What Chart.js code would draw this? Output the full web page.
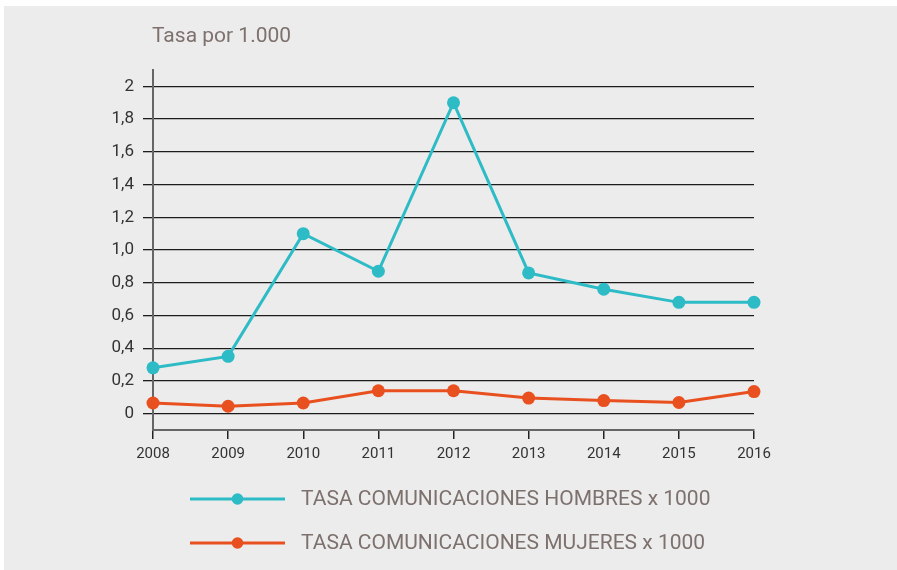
<!DOCTYPE html>
<html>
<head>
<meta charset="utf-8">
<script src="https://cdn.jsdelivr.net/npm/chart.js@4"></script>
<style>
  html, body { margin: 0; padding: 0; background: #ffffff; }
  #wrap { width: 897px; height: 570px; position: relative; }
  canvas { display: block; }
</style>
</head>
<body>
<div id="wrap"><canvas id="c" width="897" height="570"></canvas></div>
<script>
const titleText = 'Tasa por 1.000';
const categories = ['2008', '2009', '2010', '2011', '2012', '2013', '2014', '2015', '2016'];
const hombres = [0.28, 0.35, 1.10, 0.87, 1.90, 0.86, 0.76, 0.68, 0.68];
const mujeres = [0.065, 0.045, 0.065, 0.14, 0.14, 0.095, 0.08, 0.068, 0.135];
const seriesNames = ['TASA COMUNICACIONES HOMBRES x 1000', 'TASA COMUNICACIONES MUJERES x 1000'];
const seriesColors = ['#2dbbc6', '#e9501f'];
const yTickValues = [0, 0.2, 0.4, 0.6, 0.8, 1.0, 1.2, 1.4, 1.6, 1.8, 2.0];
const yTickLabels = ['0', '0,2', '0,4', '0,6', '0,8', '1,0', '1,2', '1,4', '1,6', '1,8', '2'];

const FONT = 'Roboto, "DejaVu Sans", sans-serif';

const bgPlugin = {
  id: 'bg',
  beforeDraw(chart) {
    const ctx = chart.ctx;
    ctx.save();
    ctx.fillStyle = '#ffffff';
    ctx.fillRect(0, 0, chart.width, chart.height);
    ctx.fillStyle = '#ececec';
    ctx.fillRect(4, 6, chart.width - 4, chart.height - 6);
    ctx.restore();
  }
};

const decoPlugin = {
  id: 'deco',
  afterDraw(chart) {
    const ctx = chart.ctx;
    const area = chart.chartArea;
    ctx.save();
    // title
    ctx.font = '21px ' + FONT;
    ctx.fillStyle = '#7d716e';
    ctx.textBaseline = 'middle';
    ctx.textAlign = 'left';
    ctx.fillText(titleText, area.left - 1, 37);
    // legend
    const rows = [499, 543];
    chart.data.datasets.forEach((ds, i) => {
      const y = rows[i];
      ctx.strokeStyle = ds.borderColor;
      ctx.lineWidth = 3;
      ctx.beginPath();
      ctx.moveTo(190, y);
      ctx.lineTo(285, y);
      ctx.stroke();
      ctx.fillStyle = ds.borderColor;
      ctx.beginPath();
      ctx.arc(237.5, y, 5.8, 0, Math.PI * 2);
      ctx.fill();
      ctx.font = '21px ' + FONT;
      ctx.fillStyle = '#7d716e';
      ctx.fillText(ds.label, 301, y + 1);
    });
    ctx.restore();
  }
};

new Chart(document.getElementById('c'), {
  type: 'line',
  data: {
    labels: categories,
    datasets: [
      {
        label: seriesNames[0],
        data: hombres,
        borderColor: seriesColors[0],
        backgroundColor: seriesColors[0],
        borderWidth: 3,
        pointRadius: 6.5,
        pointHoverRadius: 6.5,
        pointBorderWidth: 0,
        tension: 0,
        clip: false
      },
      {
        label: seriesNames[1],
        data: mujeres,
        borderColor: seriesColors[1],
        backgroundColor: seriesColors[1],
        borderWidth: 3,
        pointRadius: 6.5,
        pointHoverRadius: 6.5,
        pointBorderWidth: 0,
        tension: 0,
        clip: false
      }
    ]
  },
  options: {
    responsive: false,
    animation: false,
    devicePixelRatio: 1,
    layout: { padding: { left: 0, right: 143, top: 70, bottom: 90 } },
    plugins: {
      legend: { display: false },
      title: { display: false },
      tooltip: { enabled: false }
    },
    scales: {
      x: {
        offset: false,
        afterFit(scale) { scale.height = 50; },
        grid: {
          drawOnChartArea: false,
          drawTicks: true,
          tickLength: 9,
          color: '#222222',
          lineWidth: 1.5
        },
        border: { display: true, color: '#666666', width: 2 },
        ticks: {
          color: '#333333',
          font: { family: FONT, size: 15 },
          padding: 6,
          maxRotation: 0,
          autoSkip: false
        }
      },
      y: {
        min: -0.1,
        max: 2.1,
        afterFit(scale) { scale.width = 153; },
        afterBuildTicks(scale) {
          scale.ticks = yTickValues.map(v => ({ value: v }));
        },
        grid: {
          drawOnChartArea: true,
          drawTicks: true,
          tickLength: 10,
          color: '#1c1c1c',
          lineWidth: 1.3
        },
        border: { display: true, color: '#666666', width: 2 },
        ticks: {
          color: '#333333',
          font: { family: FONT, size: 17 },
          padding: 9,
          callback: (value, index) => yTickLabels[index]
        }
      }
    }
  },
  plugins: [bgPlugin, decoPlugin]
});
</script>
</body>
</html>
